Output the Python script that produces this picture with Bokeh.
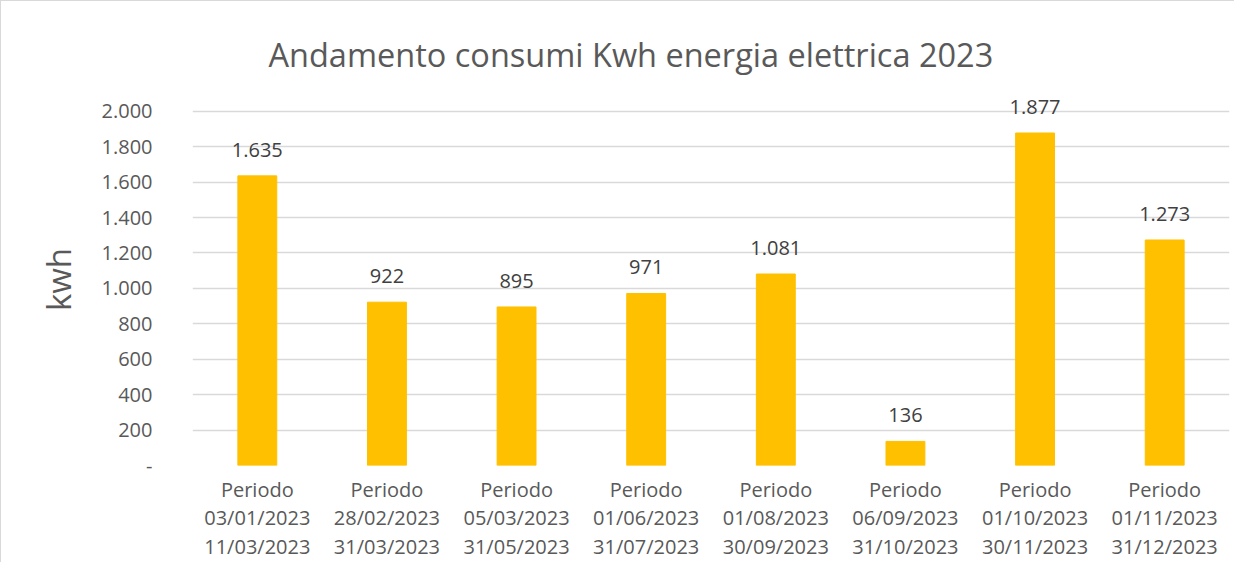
from bokeh.plotting import figure
from bokeh.models import FactorRange, Range1d, FixedTicker, Title, ColumnDataSource, LabelSet
from bokeh.core.properties import value
from bokeh.embed import file_html
from bokeh.resources import INLINE

period_labels = [
    "Periodo\n03/01/2023\n11/03/2023",
    "Periodo\n28/02/2023\n31/03/2023",
    "Periodo\n05/03/2023\n31/05/2023",
    "Periodo\n01/06/2023\n31/07/2023",
    "Periodo\n01/08/2023\n30/09/2023",
    "Periodo\n06/09/2023\n31/10/2023",
    "Periodo\n01/10/2023\n30/11/2023",
    "Periodo\n01/11/2023\n31/12/2023",
]
kwh = [1635, 922, 895, 971, 1081, 136, 1877, 1273]
y_ticks = [0, 200, 400, 600, 800, 1000, 1200, 1400, 1600, 1800, 2000]
title_text = "Andamento consumi Kwh energia elettrica 2023"
FONT = "Open Sans"


def it_fmt(v):
    if v == 0:
        return "-"
    return f"{v:,}".replace(",", ".")


src = ColumnDataSource(dict(x=period_labels, y=kwh, lbl=[it_fmt(v) for v in kwh]))

p = figure(
    x_range=FactorRange(*period_labels, range_padding=0),
    y_range=Range1d(0, 2100),
    width=1234, height=562,
    output_backend="svg", toolbar_location=None,
    min_border_left=191, min_border_right=6,
    min_border_top=92, min_border_bottom=95,
)
p.styles = {"border-top": "1px solid #D9D9D9", "border-left": "1px solid #D9D9D9"}
p.outline_line_color = None

p.vbar(x="x", top="y", width=0.30, source=src, color="#FFC000")
labels = LabelSet(x="x", y="y", text="lbl", source=src, text_align="center",
                  text_baseline="alphabetic", y_offset=19,
                  text_font=value(FONT), text_font_size="20px", text_color="#404040")
p.add_layout(labels)

t = Title(text=title_text, align="left", offset=76,
          text_font=FONT, text_font_size="32.5px", text_font_style="normal",
          text_color="#595959", standoff=34)
p.add_layout(t, "above")

# y axis
p.yaxis.ticker = FixedTicker(ticks=y_ticks)
p.yaxis.major_label_overrides = {v: it_fmt(v) for v in y_ticks}
p.yaxis.axis_line_color = None
p.yaxis.major_tick_line_color = None
p.yaxis.minor_tick_line_color = None
p.yaxis.major_tick_out = 0
p.yaxis.major_label_standoff = 40
p.yaxis.major_label_text_font = FONT
p.yaxis.major_label_text_font_size = "20px"
p.yaxis.major_label_text_color = "#595959"
p.yaxis.axis_label = "kwh"
p.yaxis.axis_label_text_font = FONT
p.yaxis.axis_label_text_font_size = "33px"
p.yaxis.axis_label_text_font_style = "normal"
p.yaxis.axis_label_text_color = "#595959"
p.yaxis.axis_label_standoff = 18

# x axis
p.xaxis.axis_line_color = None
p.xaxis.major_tick_line_color = None
p.xaxis.minor_tick_line_color = None
p.xaxis.major_tick_out = 0
p.xaxis.major_label_standoff = 10
p.xaxis.major_label_text_font = FONT
p.xaxis.major_label_text_font_size = "20px"
p.xaxis.major_label_text_color = "#595959"
p.xaxis.major_label_text_line_height = 1.07

p.xgrid.grid_line_color = None
p.ygrid.grid_line_color = "#D9D9D9"
p.ygrid.grid_line_width = 1.5

open("out.html", "w").write(file_html(p, INLINE))
